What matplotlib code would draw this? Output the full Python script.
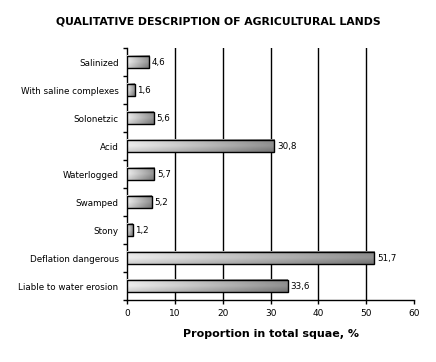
import numpy as np
import matplotlib
matplotlib.use("Agg")
import matplotlib.pyplot as plt

# data (top to bottom as shown)
categories = ["Salinized", "With saline complexes", "Solonetzic", "Acid",
              "Waterlogged", "Swamped", "Stony", "Deflation dangerous",
              "Liable to water erosion"]
values = [4.6, 1.6, 5.6, 30.8, 5.7, 5.2, 1.2, 51.7, 33.6]
labels = ["4,6", "1,6", "5,6", "30,8", "5,7", "5,2", "1,2", "51,7", "33,6"]

fig = plt.figure(figsize=(4.36, 3.62), dpi=100)
ax = fig.add_axes([0.291, 0.171, 0.659, 0.696])

n = len(categories)
ypos = np.arange(n)[::-1]
h = 0.44

# gradient image: light on the left, darker on the right, with a little vertical shading
gx = np.linspace(0, 1, 64)
gy = np.linspace(-1, 1, 16)
GX, GY = np.meshgrid(gx, gy)
shade = 0.93 - 0.36 * GX - 0.08 * np.abs(GY) - 0.04 * GY

for y, v, lab in zip(ypos, values, labels):
    ax.imshow(shade, cmap="gray", vmin=0, vmax=1, aspect="auto",
              extent=[0, v, y - h / 2, y + h / 2], zorder=3,
              interpolation="bilinear")
    rect = plt.Rectangle((0, y - h / 2), v, h, fill=False, ec="black",
                         lw=1.0, zorder=4)
    ax.add_patch(rect)
    ax.text(v + 0.6, y, lab, va="center", ha="left", fontsize=6.3, zorder=5)

ax.set_xlim(0, 60)
ax.set_ylim(-0.5, n - 0.5)
ax.set_xticks(range(0, 61, 10))
ax.tick_params(axis="x", labelsize=6.5, direction="out", length=3, width=1)
ax.set_yticks(ypos)
ax.set_yticklabels(categories, fontsize=6.3)
ax.set_yticks(np.arange(-0.5, n, 1), minor=True)
ax.tick_params(axis="y", which="major", length=0, pad=6)
ax.tick_params(axis="y", which="minor", length=3, width=1, direction="out")
ax.xaxis.grid(True, color="black", lw=1.0, zorder=1)
ax.get_xgridlines()[-1].set_visible(False)
ax.get_xgridlines()[0].set_visible(False)
ax.set_axisbelow(True)
for s in ["top", "right"]:
    ax.spines[s].set_visible(False)
for s in ["left", "bottom"]:
    ax.spines[s].set_linewidth(1.0)

ax.set_xlabel("Proportion in total squae, %", fontsize=8, fontweight="bold",
              labelpad=8)
fig.suptitle("QUALITATIVE DESCRIPTION OF AGRICULTURAL LANDS", fontsize=7.8,
             fontweight="bold", y=0.955)

fig.savefig("out.png", dpi=100)
